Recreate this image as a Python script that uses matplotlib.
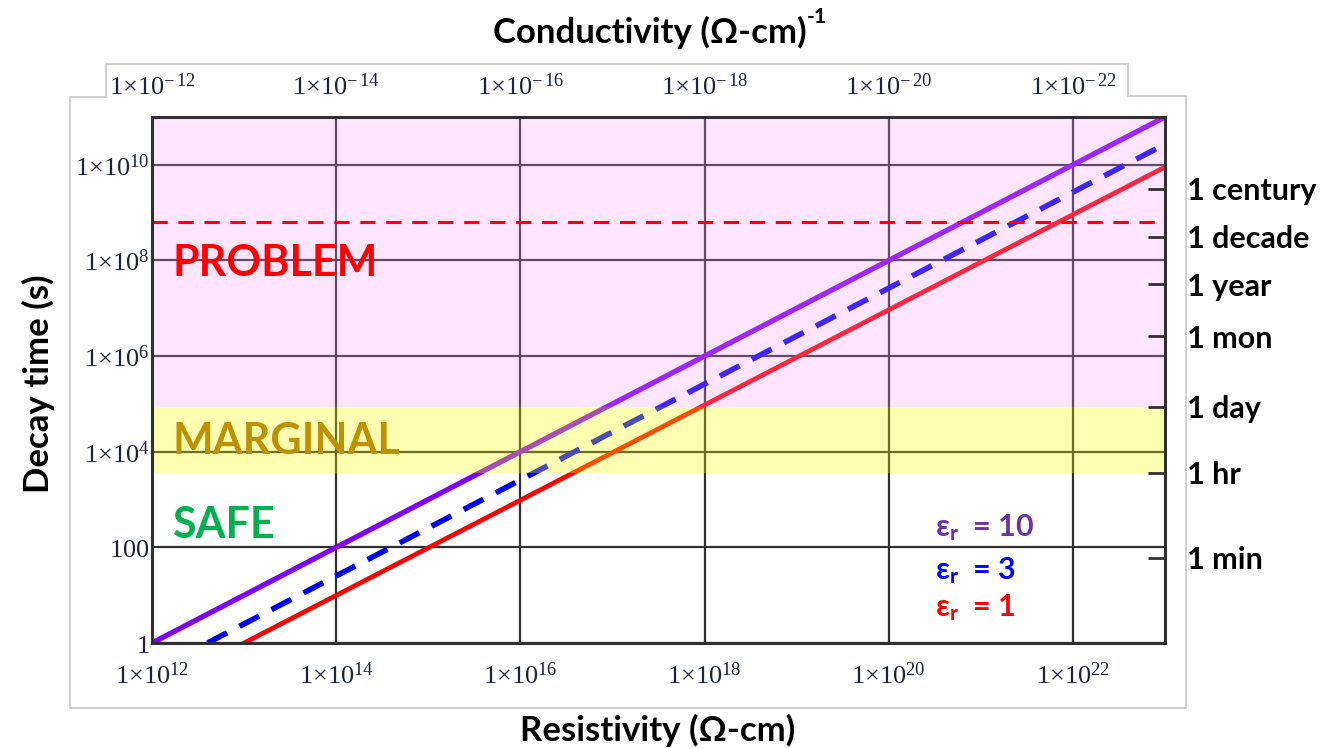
import numpy as np
import matplotlib
matplotlib.use("Agg")
import matplotlib.pyplot as plt
from matplotlib.patches import Polygon

plt.rcParams['font.family'] = ['Lato', 'DejaVu Sans']
plt.rcParams['mathtext.fontset'] = 'custom'
plt.rcParams['mathtext.rm'] = 'Liberation Serif'
plt.rcParams['mathtext.it'] = 'Liberation Serif:italic'

# decay time vs resistivity, end points of each straight line
rho_er10 = [1e12, 1e23]
tau_er10 = [1.0, 1e11]
rho_er3 = [4e12, 1e23]
tau_er3 = [1.0, 2.7e10]
rho_er1 = [1e13, 1e23]
tau_er1 = [1.0, 9e9]

decade_limit = 6.5e8          # red dashed threshold
marginal_band = [3600, 86400]  # 1 hr .. 1 day
problem_top = 1e11

x_ticks = [1e12, 1e14, 1e16, 1e18, 1e20, 1e22]
x_labels = [r'$1{\times}10^{12}$', r'$1{\times}10^{14}$', r'$1{\times}10^{16}$',
            r'$1{\times}10^{18}$', r'$1{\times}10^{20}$', r'$1{\times}10^{22}$']
top_labels = [r'$1{\times}10^{-\,12}$', r'$1{\times}10^{-\,14}$', r'$1{\times}10^{-\,16}$',
              r'$1{\times}10^{-\,18}$', r'$1{\times}10^{-\,20}$', r'$1{\times}10^{-\,22}$']
y_ticks = [1, 1e2, 1e4, 1e6, 1e8, 1e10]
y_labels = ['$1$', '$100$', r'$1{\times}10^{4}$', r'$1{\times}10^{6}$',
            r'$1{\times}10^{8}$', r'$1{\times}10^{10}$']

time_ticks = [60, 3600, 86400, 2.6e6, 3.15e7, 3.15e8, 3.15e9]
time_labels = ['1 min', '1 hr', '1 day', '1 mon', '1 year', '1 decade', '1 century']

W, H = 1321, 748
fig = plt.figure(figsize=(W / 100, H / 100), dpi=100)

# light grey frame around the plot (as in the pasted screenshot)
frame = [(70, 97), (106, 97), (106, 64), (1128, 64), (1128, 96), (1186, 96),
         (1186, 708), (70, 708)]
fig.patches.append(Polygon([(x / W, 1 - y / H) for x, y in frame], closed=True,
                           fill=False, edgecolor='#c8c8c8', linewidth=1.2,
                           transform=fig.transFigure))

ax = fig.add_axes([152 / W, 1 - 643 / H, (1165 - 152) / W, (643 - 117) / H])
ax.set_xscale('log')
ax.set_yscale('log')
ax.set_xlim(1e12, 1e23)
ax.set_ylim(1, problem_top)

ax.plot(rho_er10, tau_er10, '-', color='#8000ff', lw=3.8, zorder=3)
ax.plot(rho_er3, tau_er3, '--', color='#0000ff', lw=4.0, dashes=(4, 2.5), zorder=3)
ax.plot(rho_er1, tau_er1, '-', color='#ff0000', lw=3.4, zorder=3)

# shaded zones sit over the lines, like the original
ax.axhspan(marginal_band[1], problem_top, color='#ff99ff', alpha=0.25, lw=0, zorder=4)
ax.axhspan(marginal_band[0], marginal_band[1], color='#ffff00', alpha=0.3, lw=0, zorder=4)
ax.axhline(decade_limit, color='#ff0000', lw=2.2, dashes=(5, 3.5), zorder=5)

ax.grid(True, which='major', color='#303030', lw=1.6, zorder=2)
ax.set_axisbelow(False)
for s in ax.spines.values():
    s.set_linewidth(2.2)
    s.set_color('#303030')
    s.set_zorder(6)

tick_col = '#1c2438'
ax.set_xticks(x_ticks)
ax.set_xticklabels(x_labels)
ax.set_yticks(y_ticks)
ax.set_yticklabels(y_labels)
ax.minorticks_off()
ax.tick_params(axis='x', length=0, pad=14, labelsize=19, labelcolor=tick_col)
ax.tick_params(axis='y', length=0, pad=2, labelsize=19, labelcolor=tick_col)

# top axis: conductivity = 1/resistivity
axt = ax.twiny()
axt.set_xscale('log')
axt.set_xlim(ax.get_xlim())
axt.set_xticks(x_ticks)
axt.set_xticklabels(top_labels)
axt.minorticks_off()
axt.tick_params(axis='x', length=0, pad=12, labelsize=19, labelcolor=tick_col)
for s in axt.spines.values():
    s.set_visible(False)

# right axis: familiar time spans
axr = ax.twinx()
axr.set_yscale('log')
axr.set_ylim(ax.get_ylim())
axr.set_yticks(time_ticks)
axr.set_yticklabels(time_labels)
axr.minorticks_off()
axr.tick_params(axis='y', direction='in', length=12, width=2, color='#303030',
                pad=16, labelsize=22)
for lab in axr.get_yticklabels():
    lab.set_fontweight('bold')
for s in axr.spines.values():
    s.set_visible(False)

ytr = ax.get_yaxis_transform()
ax.text(0.02, 9e7, 'PROBLEM', color='#ff0000', fontsize=31, fontweight='bold',
        va='center', ha='left', transform=ytr, zorder=7)
ax.text(0.02, 1.7e4, 'MARGINAL', color='#bf9000', fontsize=31, fontweight='bold',
        va='center', ha='left', transform=ytr, zorder=7)
ax.text(0.02, 290, 'SAFE', color='#00b050', fontsize=31, fontweight='bold',
        va='center', ha='left', transform=ytr, zorder=7)

ax.text(0.773, 260, r'$\mathregular{\epsilon_r}$  = 10', color='#7030a0', fontsize=22,
        fontweight='bold', transform=ytr, va='center', zorder=7)
ax.text(0.773, 32, r'$\mathregular{\epsilon_r}$  = 3', color='#0000ff', fontsize=22,
        fontweight='bold', transform=ytr, va='center', zorder=7)
ax.text(0.773, 5.4, r'$\mathregular{\epsilon_r}$  = 1', color='#ff0000', fontsize=22,
        fontweight='bold', transform=ytr, va='center', zorder=7)

title = fig.text(650 / W, 1 - 32 / H, 'Conductivity (Ω-cm)', fontsize=25,
                 fontweight='bold', ha='center', va='center')
ax.annotate('-1', xy=(1.0, 0.95), xycoords=title, fontsize=15, fontweight='bold',
            ha='left', va='center', annotation_clip=False)
fig.text(658 / W, 1 - 730 / H, 'Resistivity (Ω-cm)', fontsize=25,
         fontweight='bold', ha='center', va='center')
fig.text(38 / W, 1 - 384 / H, 'Decay time (s)', fontsize=25, fontweight='bold',
         ha='center', va='center', rotation=90)

fig.savefig('out.png', dpi=100)
